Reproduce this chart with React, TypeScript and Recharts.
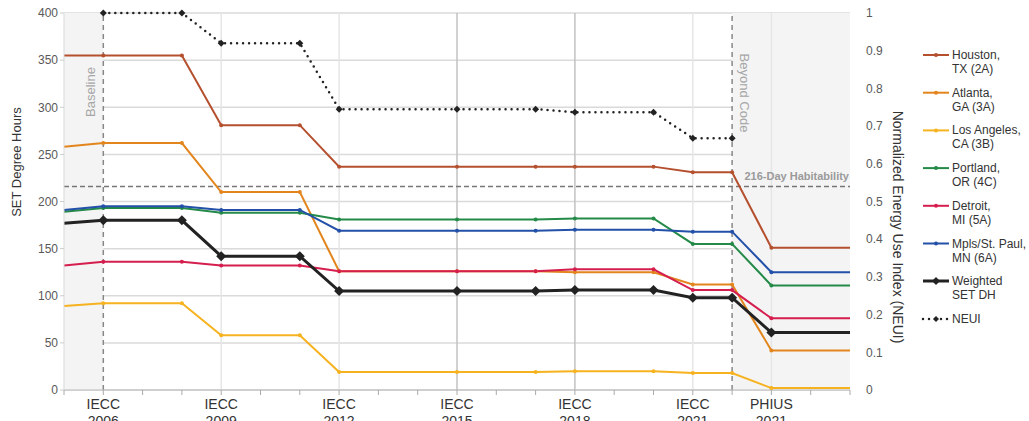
import { LineChart, Line, XAxis, YAxis, CartesianGrid, ReferenceLine, ReferenceArea } from 'recharts'

// x positions along the code-cycle axis (0..20)
const xPositions = [0, 1, 3, 4, 6, 7, 10, 12, 13, 15, 16, 17, 18, 20]

const houston = [355, 355, 355, 281, 281, 237, 237, 237, 237, 237, 231, 231, 151, 151]
const atlanta = [258, 262, 262, 210, 210, 126, 126, 126, 125, 125, 112, 112, 42, 42]
const losAngeles = [89, 92, 92, 58, 58, 19, 19, 19, 20, 20, 18, 18, 2, 2]
const portland = [189, 193, 193, 188, 188, 181, 181, 181, 182, 182, 155, 155, 111, 111]
const detroit = [132, 136, 136, 132, 132, 126, 126, 126, 128, 128, 106, 106, 76, 76]
const mpls = [191, 195, 195, 191, 191, 169, 169, 169, 170, 170, 168, 168, 125, 125]
const weighted = [177, 180, 180, 142, 142, 105, 105, 105, 106, 106, 98, 98, 61, 61]
const neui = [null, 1, 1, 0.92, 0.92, 0.745, 0.745, 0.745, 0.737, 0.737, 0.668, 0.668, null, null]

const codeTicks = [1, 4, 7, 10, 13, 16, 18]
const codeNames = ['IECC', 'IECC', 'IECC', 'IECC', 'IECC', 'IECC', 'PHIUS']
const codeYears = ['2006', '2009', '2012', '2015', '2018', '2021', '2021']

const leftTicks = [0, 50, 100, 150, 200, 250, 300, 350, 400]
const rightTicks = [0, 0.1, 0.2, 0.3, 0.4, 0.5, 0.6, 0.7, 0.8, 0.9, 1]
const xTicks = Array.from({ length: 21 }, (_, i) => i)

const habitability = 216

const data = xPositions.map((x, i) => ({
  x,
  houston: houston[i],
  atlanta: atlanta[i],
  losAngeles: losAngeles[i],
  portland: portland[i],
  detroit: detroit[i],
  mpls: mpls[i],
  weighted: weighted[i],
  neui: neui[i],
}))

const cities = [
  { key: 'houston', name: ['Houston,', 'TX (2A)'], color: '#b5502f' },
  { key: 'atlanta', name: ['Atlanta,', 'GA (3A)'], color: '#e3851d' },
  { key: 'losAngeles', name: ['Los Angeles,', 'CA (3B)'], color: '#f6b21f' },
  { key: 'portland', name: ['Portland,', 'OR (4C)'], color: '#238a47' },
  { key: 'detroit', name: ['Detroit,', 'MI (5A)'], color: '#d51e4e' },
  { key: 'mpls', name: ['Mpls/St. Paul,', 'MN (6A)'], color: '#2350a8' },
]

const FONT = '"Liberation Sans", Arial, sans-serif'

const smallDot = (color: string) => (props: any) => {
  const { cx, cy, payload } = props
  if (cx == null || cy == null || payload.x === 0 || payload.x === 20) return <g />
  return <circle cx={cx} cy={cy} r={2} fill={color} />
}

const diamondDot = (size: number) => (props: any) => {
  const { cx, cy, payload } = props
  if (cx == null || cy == null || payload.x === 0 || payload.x === 20) return <g />
  return (
    <path
      d={`M${cx},${cy - size} L${cx + size},${cy} L${cx},${cy + size} L${cx - size},${cy} Z`}
      fill="#222"
    />
  )
}

const XTick = (props: any) => {
  const { x, y, payload } = props
  const i = codeTicks.indexOf(payload.value)
  if (i < 0) return <g />
  return (
    <text x={x} y={y + 12} textAnchor="middle" fontSize={14} fill="#333" fontFamily={FONT}>
      <tspan x={x}>{codeNames[i]}</tspan>
      <tspan x={x} dy={17}>{codeYears[i]}</tspan>
    </text>
  )
}

export default function App() {
  return (
    <div style={{ position: 'absolute', left: 0, top: 0, width: 1029, height: 421, background: '#fff', fontFamily: FONT }}>
      <LineChart width={1029} height={421} data={data} margin={{ top: 13, right: 119, bottom: 0, left: 10 }}>
        <ReferenceArea x1={0} x2={1} yAxisId="left" y1={0} y2={400} fill="#f4f4f4" fillOpacity={1} stroke="none" />
        <ReferenceArea x1={17} x2={20} yAxisId="left" y1={0} y2={400} fill="#f4f4f4" fillOpacity={1} stroke="none" />
        <CartesianGrid yAxisId="left" vertical={false} stroke="#dadada" strokeWidth={1.5} />
        {[4, 7, 16, 18].map((v) => (
          <ReferenceLine key={v} x={v} yAxisId="left" stroke="#e6e6e6" strokeWidth={1.5} />
        ))}
        {[10, 13].map((v) => (
          <ReferenceLine key={v} x={v} yAxisId="left" stroke="#c2c2c2" strokeWidth={1.5} />
        ))}
        <XAxis
          type="number"
          dataKey="x"
          domain={[0, 20]}
          ticks={xTicks}
          interval={0}
          height={31}
          tick={<XTick />}
          tickSize={5}
          tickLine={{ stroke: '#aaa' }}
          axisLine={{ stroke: '#bbb' }}
        />
        <YAxis
          yAxisId="left"
          domain={[0, 400]}
          ticks={leftTicks}
          width={54}
          tickSize={4}
          tickLine={{ stroke: '#ccc' }}
          axisLine={{ stroke: '#d9d9d9' }}
          tick={{ fontSize: 12, fill: '#595959', fontFamily: FONT }}
        />
        <YAxis
          yAxisId="right"
          orientation="right"
          domain={[0, 1]}
          ticks={rightTicks}
          width={60}
          tickLine={false}
          axisLine={false}
          tickMargin={10}
          tick={{ fontSize: 12, fill: '#595959', fontFamily: FONT, textAnchor: 'start' }}
        />
        <ReferenceLine
          y={habitability}
          yAxisId="left"
          stroke="#777"
          strokeWidth={1.5}
          strokeDasharray="5 3"
          label={(p: any) => (
            <text
              x={p.viewBox.x + p.viewBox.width - 1}
              y={p.viewBox.y - 6}
              textAnchor="end"
              fontSize={11}
              fontWeight="bold"
              fill="#9a9a9a"
              fontFamily={FONT}
            >
              216-Day Habitability
            </text>
          )}
        />
        <ReferenceLine
          x={1}
          yAxisId="left"
          stroke="#888"
          strokeWidth={1.5}
          strokeDasharray="5 4"
          label={(p: any) => {
            const cx = p.viewBox.x - 13
            const cy = p.viewBox.y + 79
            return (
              <text x={cx} y={cy} transform={`rotate(-90, ${cx}, ${cy})`} textAnchor="middle" dominantBaseline="central" fontSize={13} fill="#a6a6a6" fontFamily={FONT}>
                Baseline
              </text>
            )
          }}
        />
        <ReferenceLine
          x={17}
          yAxisId="left"
          stroke="#888"
          strokeWidth={1.5}
          strokeDasharray="5 4"
          label={(p: any) => {
            const cx = p.viewBox.x + 12
            const cy = p.viewBox.y + 80
            return (
              <text x={cx} y={cy} transform={`rotate(90, ${cx}, ${cy})`} textAnchor="middle" dominantBaseline="central" fontSize={13} fill="#a6a6a6" fontFamily={FONT}>
                Beyond Code
              </text>
            )
          }}
        />
        {cities.map((c) => (
          <Line
            key={c.key}
            yAxisId="left"
            type="linear"
            dataKey={c.key}
            stroke={c.color}
            strokeWidth={2}
            dot={smallDot(c.color)}
            activeDot={false}
            isAnimationActive={false}
          />
        ))}
        <Line
          yAxisId="left"
          type="linear"
          dataKey="weighted"
          stroke="#222"
          strokeWidth={3}
          dot={diamondDot(5)}
          activeDot={false}
          isAnimationActive={false}
        />
        <Line
          yAxisId="right"
          type="linear"
          dataKey="neui"
          stroke="#222"
          strokeWidth={2.5}
          strokeDasharray="0 6"
          strokeLinecap="round"
          dot={diamondDot(3.5)}
          activeDot={false}
          isAnimationActive={false}
        />
      </LineChart>

      <svg width={1029} height={421} style={{ position: 'absolute', left: 0, top: 0, pointerEvents: 'none' }}>
        <text x={16} y={162} transform="rotate(-90, 16, 162)" textAnchor="middle" dominantBaseline="central" fontSize={13} fill="#333" fontFamily={FONT}>
          SET Degree Hours
        </text>
        <text x={898} y={227} transform="rotate(90, 898, 227)" textAnchor="middle" dominantBaseline="central" fontSize={14} fill="#333" fontFamily={FONT}>
          Normalized Energy Use Index (NEUI)
        </text>
        {cities.map((c, i) => {
          const y = 55 + i * 37.7
          return (
            <g key={c.key}>
              <line x1={923} x2={949} y1={y} y2={y} stroke={c.color} strokeWidth={2} />
              <circle cx={936} cy={y} r={2} fill={c.color} />
              <text x={952} y={y + 4} fontSize={12} fill="#333" fontFamily={FONT}>
                <tspan x={952}>{c.name[0]}</tspan>
                <tspan x={952} dy={14}>{c.name[1]}</tspan>
              </text>
            </g>
          )
        })}
        <g>
          <line x1={923} x2={949} y1={281} y2={281} stroke="#222" strokeWidth={3} />
          <path d="M936,277 L940,281 L936,285 L932,281 Z" fill="#222" />
          <text x={952} y={285} fontSize={12} fill="#333" fontFamily={FONT}>
            <tspan x={952}>Weighted</tspan>
            <tspan x={952} dy={14}>SET DH</tspan>
          </text>
        </g>
        <g>
          <line x1={923} x2={949} y1={319} y2={319} stroke="#222" strokeWidth={2.5} strokeDasharray="0 6" strokeLinecap="round" />
          <path d="M936,316 L939,319 L936,322 L933,319 Z" fill="#222" />
          <text x={952} y={323} fontSize={12} fill="#333" fontFamily={FONT}>
            NEUI
          </text>
        </g>
      </svg>
    </div>
  )
}
